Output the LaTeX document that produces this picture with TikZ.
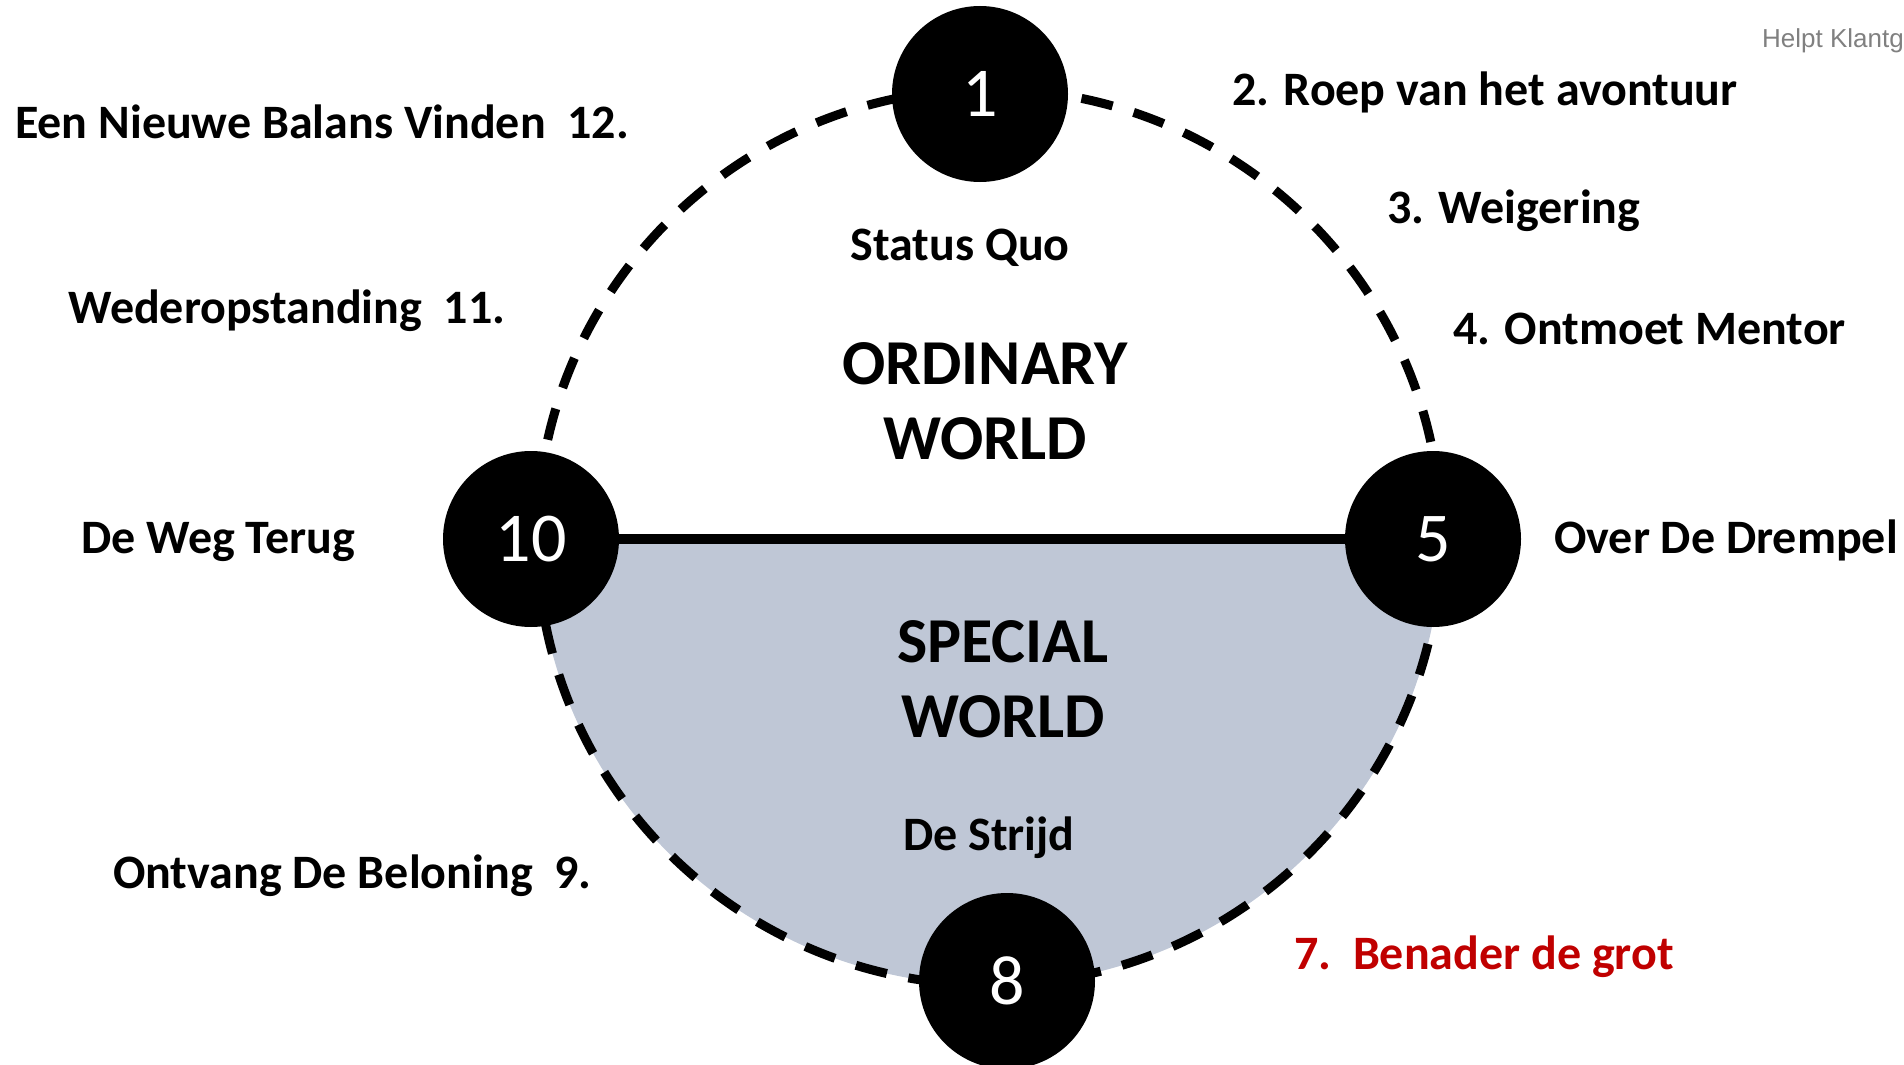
\documentclass[tikz,border=0pt]{standalone}
\usepackage{fontspec}
\setmainfont{Carlito}
\newfontfamily\wmfont{Liberation Sans}
\definecolor{fillc}{RGB}{191,199,214}
\definecolor{redc}{RGB}{192,0,0}
\definecolor{grayc}{RGB}{128,128,128}
\tikzset{
  num/.style={circle, fill=black, text=white, minimum size=176pt, inner sep=0pt,
    font=\fontsize{70}{70}\selectfont},
  lbl/.style={anchor=base west, inner sep=0pt, font=\bfseries\fontsize{48}{50}\selectfont},
  clbl/.style={anchor=base, inner sep=0pt, font=\bfseries\fontsize{48}{50}\selectfont},
  world/.style={anchor=base, inner sep=0pt, align=center, font=\bfseries\fontsize{64}{75}\selectfont},
  ring/.style={line width=9pt, dash pattern=on 32pt off 22pt},
}
\begin{document}
\begin{tikzpicture}[x=1pt,y=-1pt]
\useasboundingbox (0,0) rectangle (1904,1065);
% lower half fill
\begin{scope}
  \clip (0,538) rectangle (1904,1065);
  \fill[fillc] (989,537) ellipse [x radius=452, y radius=448];
\end{scope}
% dashed ring
\draw[ring] (989,537) ellipse [x radius=452, y radius=448];
% numbered circles
\node[num] (n1) at (980,94) {1};
\node[num] (n10) at (531,539) {10};
\node[num] (n5) at (1433,539) {5};
\node[num] (n8) at (1007,981) {8};
\draw[line width=10pt] (n10) -- (n5);
% labels
\node[lbl] (l2) at (1232,106) {2. Roep van het avontuur};
\node[lbl] (l3) at (1387,223) {3. Weigering};
\node[lbl] (l4) at (1453,344) {4. Ontmoet Mentor};
\node[lbl] (l5) at (1554,553) {Over De Drempel};
\node[lbl, text=redc] (l7) at (1294,969) {7.\ \ Benader de grot};
\node[lbl] (l9) at (113,888) {Ontvang De Beloning\ \ 9.};
\node[lbl] (l10) at (81,553) {De Weg Terug};
\node[lbl] (l11) at (68,323) {Wederopstanding\ \ 11.};
\node[lbl] (l12) at (15,138) {Een Nieuwe Balans Vinden\ \ 12.};
\node[clbl] (sq) at (960,260) {Status Quo};
\node[clbl] (ds) at (989,850) {De Strijd};
\node[world] (ow) at (985,459) {ORDINARY\\WORLD};
\node[world] (sw) at (1003,737) {SPECIAL\\WORLD};
\node[anchor=base west, inner sep=0pt, text=grayc, font=\wmfont\fontsize{26}{28}\selectfont] (wm) at (1762,48) {Helpt Klantg};
\end{tikzpicture}
\end{document}
